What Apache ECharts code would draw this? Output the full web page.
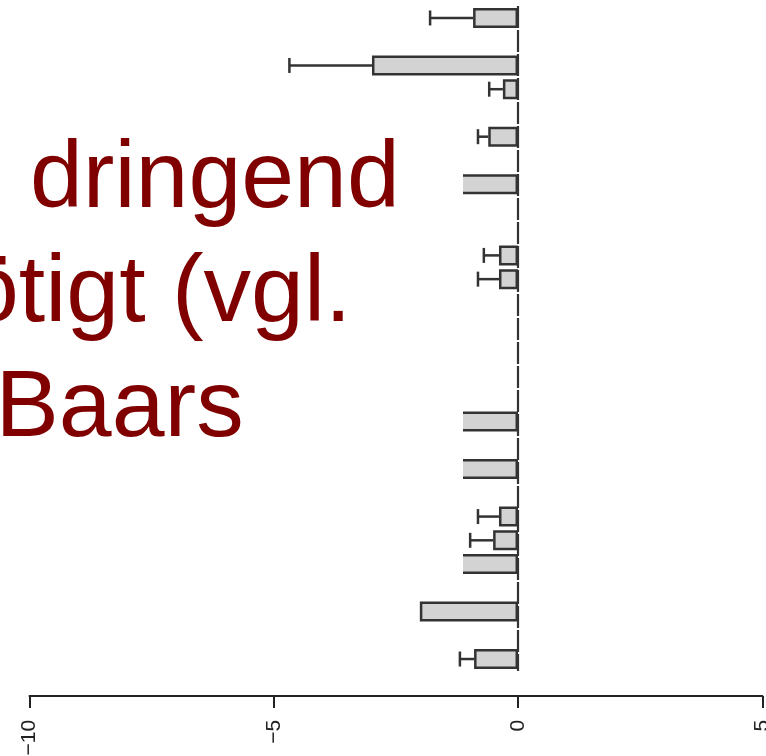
<!DOCTYPE html>
<html>
<head>
<meta charset="utf-8">
<script src="https://cdn.jsdelivr.net/npm/echarts@6/dist/echarts.min.js"></script>
<style>html,body{margin:0;padding:0;background:#fff}#c{width:766px;height:756px}</style>
</head>
<body>
<div id="c"></div>
<script>
// ---- data ----
const categories = ["1","2","3","4","5","6","7","8","9","10","11","12","13","14",
                    "15","16","17","18","19","20","21","22","23","24","25","26","27","28"];
// bar values (null = empty slot); rows 8,18,20,24 are hidden behind the slide text box (estimated)
const values = [-0.92, null, -2.99, -0.31, null, -0.61, null, -2.4, null, null,
                -0.39, -0.39, null, null, null, null, null, -2.2, null, -1.9,
                null, -0.39, -0.51, -1.6, null, -2.01, null, -0.90];
// lower end of the error bars (null = no error bar)
const errLow = [-1.80, null, -4.68, -0.59, null, -0.82, null, null, null, null,
                -0.70, -0.82, null, null, null, null, null, null, null, null,
                null, -0.82, -0.98, null, null, null, null, -1.19];
const xTicks = [-10, -5, 0, 5];
const overlayLines = ["dringend", "ötigt (vgl.", "Baars"];

const chart = echarts.init(document.getElementById('c'), null, {renderer: 'canvas'});
const errData = errLow.map((e, i) => e == null ? null : [i, values[i], e]).filter(d => d);

const option = {
  backgroundColor: '#fff',
  animation: false,
  grid: {left: 29.5, right: 3.7, top: 6.1, bottom: 85.1, containLabel: false, outerBoundsMode: 'none'},
  xAxis: {
    type: 'value', min: xTicks[0], max: xTicks[xTicks.length - 1], interval: 5,
    position: 'bottom', offset: 25,
    splitLine: {show: false},
    axisLine: {show: true, lineStyle: {color: '#222', width: 2}},
    axisTick: {show: true, length: 12, lineStyle: {color: '#222', width: 2}},
    axisLabel: {
      rotate: 90, margin: 24, fontSize: 21, color: '#222',
      fontFamily: 'Liberation Sans, Arial, sans-serif',
      hideOverlap: false, showMinLabel: true, showMaxLabel: true,
      formatter: v => String(v).replace('-', '\u2212')
    }
  },
  yAxis: {
    type: 'category', data: categories, inverse: true,
    axisLine: {show: false}, axisTick: {show: false}, axisLabel: {show: false},
    splitLine: {show: false}
  },
  series: [
    {
      type: 'bar', data: values, barWidth: 20,
      itemStyle: {color: '#d3d3d3', borderColor: '#333', borderWidth: 2.5},
      markLine: {
        silent: true, symbol: 'none', label: {show: false},
        lineStyle: {color: '#333', width: 2.2, type: [22, 2]},
        data: [{xAxis: 0}]
      },
      z: 2
    },
    {
      type: 'custom', data: errData, z: 3,
      renderItem: function (params, api) {
        const idx = api.value(0);
        const p0 = api.coord([api.value(1), idx]);
        const p1 = api.coord([api.value(2), idx]);
        const cap = 7.5;
        const st = {stroke: '#333', lineWidth: 2.5};
        return {
          type: 'group',
          children: [
            {type: 'line', shape: {x1: p0[0], y1: p0[1], x2: p1[0], y2: p1[1]}, style: st},
            {type: 'line', shape: {x1: p1[0], y1: p1[1] - cap, x2: p1[0], y2: p1[1] + cap}, style: st}
          ]
        };
      },
      encode: {x: [1, 2], y: 0}
    }
  ],
  graphic: [
    {type: 'rect', shape: {x: 0, y: 120, width: 463, height: 468}, style: {fill: '#fff'}, z: 100},
    {type: 'text', x: 30, y: 181, z: 101,
     style: {text: overlayLines[0], font: '95px "Liberation Sans", Arial, sans-serif', fill: '#800000', verticalAlign: 'middle'}},
    {type: 'text', x: -34, y: 295, z: 101,
     style: {text: overlayLines[1], font: '95px "Liberation Sans", Arial, sans-serif', fill: '#800000', verticalAlign: 'middle'}},
    {type: 'text', x: -4.5, y: 410, z: 101,
     style: {text: overlayLines[2], font: '95px "Liberation Sans", Arial, sans-serif', fill: '#800000', verticalAlign: 'middle'}}
  ]
};
chart.setOption(option);
</script>
</body>
</html>
